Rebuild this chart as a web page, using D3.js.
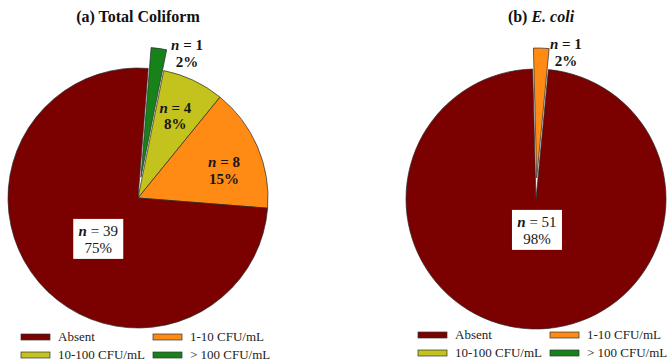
<!DOCTYPE html>
<html><head><meta charset="utf-8">
<script src="https://cdn.jsdelivr.net/npm/d3@7"></script>
<style>
body{margin:0;background:#fff}
svg{display:block}
text{font-family:"Liberation Serif","Times New Roman",serif}
</style>
</head><body>
<svg id="c" width="669" height="362"></svg>
<script>
// ---- data ----
const categories = ["Absent", "1-10 CFU/mL", "10-100 CFU/mL", "> 100 CFU/mL"];
const colors = ["#7b0000", "#ff8a14", "#c4c21c", "#17821a"];
const totalColiform = [39, 8, 4, 1];
const eColi = [51, 1, 0, 0];
const titleA = [["(a) Total Coliform", "normal"]];
const titleB = [["(b) ", "normal"], ["E. coli", "italic"]];

// ---- layout ----
const R = 130, EXPLODE = 21;
const deg = Math.PI / 180;
const panels = [
  { title: titleA, values: totalColiform, cx: 138, cy: 198, titleX: 138, start: 4.5,
    exploded: "> 100 CFU/mL", legendX: 21, legendY: 341,
    // [fraction along slice angle, fraction of radius, boxed]
    labelPos: { "Absent": [0.467, 0.47, true], "1-10 CFU/mL": [0.65, 0.685, false],
                "10-100 CFU/mL": [0.52, 0.66, false], "> 100 CFU/mL": [2.14, 1.14, false] } },
  { title: titleB, values: eColi, cx: 536, cy: 199, titleX: 541, start: -1.46,
    exploded: "1-10 CFU/mL", legendX: 418, legendY: 339,
    labelPos: { "Absent": [0.49, 0.28, true], "1-10 CFU/mL": [1.93, 1.115, false] } }
];

const svg = d3.select("#c");
const color = d3.scaleOrdinal().domain(categories).range(colors);
const drawOrder = categories.map((c, i) => i).reverse();

panels.forEach(p => {
  const total = d3.sum(p.values);
  const g = svg.append("g");

  // title
  const t = g.append("text").attr("x", p.titleX).attr("y", 22)
    .attr("text-anchor", "middle").attr("font-size", 16).attr("font-weight", "bold").attr("fill", "#111");
  p.title.forEach(([s, st]) => t.append("tspan").attr("font-style", st).text(s));

  const pie = d3.pie().sort(null).value(i => p.values[i])
    .startAngle(p.start * deg).endAngle(p.start * deg + 2 * Math.PI);
  const arcs = pie(drawOrder).filter(a => a.value > 0);
  const arc = d3.arc().innerRadius(0).outerRadius(R);

  g.selectAll("path.slice").data(arcs).join("path")
    .attr("class", "slice")
    .attr("d", arc)
    .attr("fill", a => color(categories[a.data]))
    .attr("stroke", "#2a2a2a").attr("stroke-width", 0.7)
    .attr("transform", a => {
      let dx = 0, dy = 0;
      if (categories[a.data] === p.exploded) {
        const m = (a.startAngle + a.endAngle) / 2;
        dx = EXPLODE * Math.sin(m); dy = -EXPLODE * Math.cos(m);
      }
      return `translate(${p.cx + dx},${p.cy + dy})`;
    });

  // labels
  arcs.forEach(a => {
    const cat = categories[a.data];
    const lp = p.labelPos[cat];
    if (!lp) return;
    const ang = a.startAngle + lp[0] * (a.endAngle - a.startAngle);
    const r = lp[1] * R;
    const x = p.cx + r * Math.sin(ang), y = p.cy - r * Math.cos(ang);
    const lg = g.append("g").attr("transform", `translate(${x},${y})`);
    const boxed = lp[2];
    if (boxed) {
      lg.append("rect").attr("x", -25).attr("y", -25.5).attr("width", 50).attr("height", 40)
        .attr("fill", "#ffffff");
    }
    const weight = boxed ? "normal" : "bold";
    const l1 = lg.append("text").attr("y", -8).attr("text-anchor", "middle")
      .attr("font-size", 15).attr("fill", "#161616").attr("font-weight", weight);
    l1.append("tspan").attr("font-style", "italic").attr("font-weight", "bold").text("n");
    l1.append("tspan").text(" = " + a.value);
    lg.append("text").attr("y", 8.5).attr("text-anchor", "middle")
      .attr("font-size", 15).attr("fill", "#161616").attr("font-weight", weight)
      .text(Math.round(a.value / total * 100) + "%");
  });

  // legend
  const leg = g.append("g").attr("transform", `translate(${p.legendX},${p.legendY})`);
  categories.forEach((c, i) => {
    const col = i % 2, row = Math.floor(i / 2);
    const it = leg.append("g").attr("transform", `translate(${col * 132},${row * 18})`);
    it.append("rect").attr("x", 0).attr("y", -7).attr("width", 29).attr("height", 6)
      .attr("fill", color(c)).attr("stroke", "#333").attr("stroke-width", 0.7);
    it.append("text").attr("x", 37).attr("y", 0).attr("font-size", 13).attr("fill", "#222").text(c);
  });
});
</script>
</body></html>
